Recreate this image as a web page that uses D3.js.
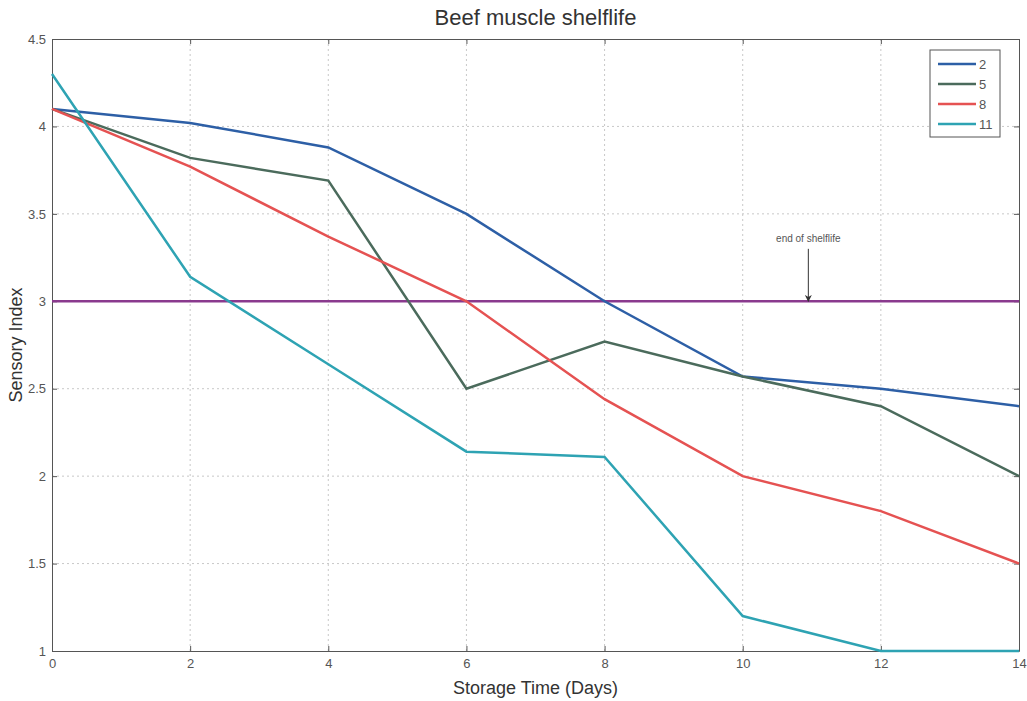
<!DOCTYPE html>
<html>
<head>
<meta charset="utf-8">
<script src="https://cdn.jsdelivr.net/npm/d3@7"></script>
<style>
  body { margin: 0; background: #fff; }
  text { font-family: "Liberation Sans", Arial, sans-serif; }
  .grid line { stroke: #c8c8c8; stroke-dasharray: 2,3; }
  .axis text { fill: #555; font-size: 13px; }
  .axis path, .axis line { stroke: #555; }
</style>
</head>
<body>
<svg id="chart"></svg>
<script>
// Chart size
const margin = {top: 39, right: 8, bottom: 50, left: 52};
const width = 1027 - margin.left - margin.right;
const height = 701 - margin.top - margin.bottom;

// Data
const days = [0, 2, 4, 6, 8, 10, 12, 14];
const seriesNames = ["2", "5", "8", "11"];
const temp2 = [4.1, 4.02, 3.88, 3.5, 3.0, 2.57, 2.5, 2.4];
const temp5 = [4.1, 3.82, 3.69, 2.5, 2.77, 2.57, 2.4, 2.0];
const temp8 = [4.1, 3.77, 3.37, 3.0, 2.44, 2.0, 1.8, 1.5];
const temp11 = [4.3, 3.14, 2.64, 2.14, 2.11, 1.2, 1.0, 1.0];
const xTicks = [0, 2, 4, 6, 8, 10, 12, 14];
const yTicks = [1, 1.5, 2, 2.5, 3, 3.5, 4, 4.5];
const shelflife = 3;

const colors = ["#2d5fa6", "#4b6b5c", "#e55252", "#2ea3b3"];
const allSeries = [temp2, temp5, temp8, temp11];

const svg = d3.select("#chart")
  .attr("width", 1027)
  .attr("height", 701);

const g = svg.append("g")
  .attr("transform", `translate(${margin.left}, ${margin.top})`);

const x = d3.scaleLinear().domain([0, 14]).range([0, width]);
const y = d3.scaleLinear().domain([1, 4.5]).range([height, 0]);

// Grid (dotted)
g.append("g").attr("class", "grid")
  .selectAll("line").data(yTicks.slice(1, -1)).enter().append("line")
  .attr("x1", 0).attr("x2", width)
  .attr("y1", d => y(d)).attr("y2", d => y(d));
g.append("g").attr("class", "grid")
  .selectAll("line").data(xTicks.slice(1, -1)).enter().append("line")
  .attr("y1", 0).attr("y2", height)
  .attr("x1", d => x(d)).attr("x2", d => x(d));

// Axes
g.append("g").attr("class", "axis")
  .attr("transform", `translate(0, ${height})`)
  .call(d3.axisBottom(x).tickValues(xTicks).tickSize(-5).tickPadding(8).tickSizeOuter(0));
g.append("g").attr("class", "axis")
  .call(d3.axisLeft(y).tickValues(yTicks).tickFormat(d3.format("")).tickSize(-5).tickPadding(6).tickSizeOuter(0));
g.append("g").attr("class", "axis")
  .attr("transform", `translate(${width}, 0)`)
  .call(d3.axisRight(y).tickValues(yTicks).tickSize(-5).tickFormat("").tickSizeOuter(0));
g.append("g").attr("class", "axis")
  .call(d3.axisTop(x).tickValues(xTicks).tickSize(-5).tickFormat("").tickSizeOuter(0));

// End of shelflife line
g.append("line")
  .attr("x1", 0).attr("x2", width)
  .attr("y1", y(shelflife)).attr("y2", y(shelflife))
  .attr("stroke", "#8a3a8e").attr("stroke-width", 2.5);

// Series lines
const line = d3.line()
  .x((d, i) => x(days[i]))
  .y(d => y(d));

g.selectAll(".series").data(allSeries).enter().append("path")
  .attr("class", "series")
  .attr("d", line)
  .attr("fill", "none")
  .attr("stroke", (d, i) => colors[i])
  .attr("stroke-width", 2.5);

// Annotation
svg.append("defs").append("marker")
  .attr("id", "arrow")
  .attr("viewBox", "0 0 10 10")
  .attr("refX", 9).attr("refY", 5)
  .attr("markerWidth", 7).attr("markerHeight", 7)
  .attr("orient", "auto")
  .append("path")
  .attr("d", "M0,0 L10,5 L0,10 L3,5 Z")
  .attr("fill", "#333");

g.append("text")
  .attr("x", x(10.95)).attr("y", y(3.34))
  .attr("text-anchor", "middle")
  .attr("font-size", 10)
  .attr("fill", "#555")
  .text("end of shelflife");
g.append("line")
  .attr("x1", x(10.95)).attr("x2", x(10.95))
  .attr("y1", y(3.3)).attr("y2", y(3.0))
  .attr("stroke", "#333").attr("stroke-width", 1)
  .attr("marker-end", "url(#arrow)");

// Legend
const legend = g.append("g").attr("transform", `translate(${width - 89}, 11)`);
legend.append("rect")
  .attr("width", 70).attr("height", 87)
  .attr("fill", "#fff").attr("stroke", "#555");
legend.selectAll(".leg-line").data(seriesNames).enter().append("line")
  .attr("x1", 8).attr("x2", 46)
  .attr("y1", (d, i) => 14 + i * 20).attr("y2", (d, i) => 14 + i * 20)
  .attr("stroke", (d, i) => colors[i]).attr("stroke-width", 2.5);
legend.selectAll(".leg-text").data(seriesNames).enter().append("text")
  .attr("x", 49).attr("y", (d, i) => 14 + i * 20)
  .attr("dy", "0.35em")
  .attr("font-size", 13).attr("fill", "#555")
  .text(d => d);

// Title and axis labels
svg.append("text")
  .attr("x", margin.left + width / 2).attr("y", 25)
  .attr("text-anchor", "middle")
  .attr("font-size", 22).attr("fill", "#333")
  .text("Beef muscle shelflife");
svg.append("text")
  .attr("x", margin.left + width / 2).attr("y", 694)
  .attr("text-anchor", "middle")
  .attr("font-size", 18).attr("fill", "#333")
  .text("Storage Time (Days)");
svg.append("text")
  .attr("transform", `translate(22, ${margin.top + height / 2}) rotate(-90)`)
  .attr("text-anchor", "middle")
  .attr("font-size", 18).attr("fill", "#333")
  .text("Sensory Index");
</script>
</body>
</html>
